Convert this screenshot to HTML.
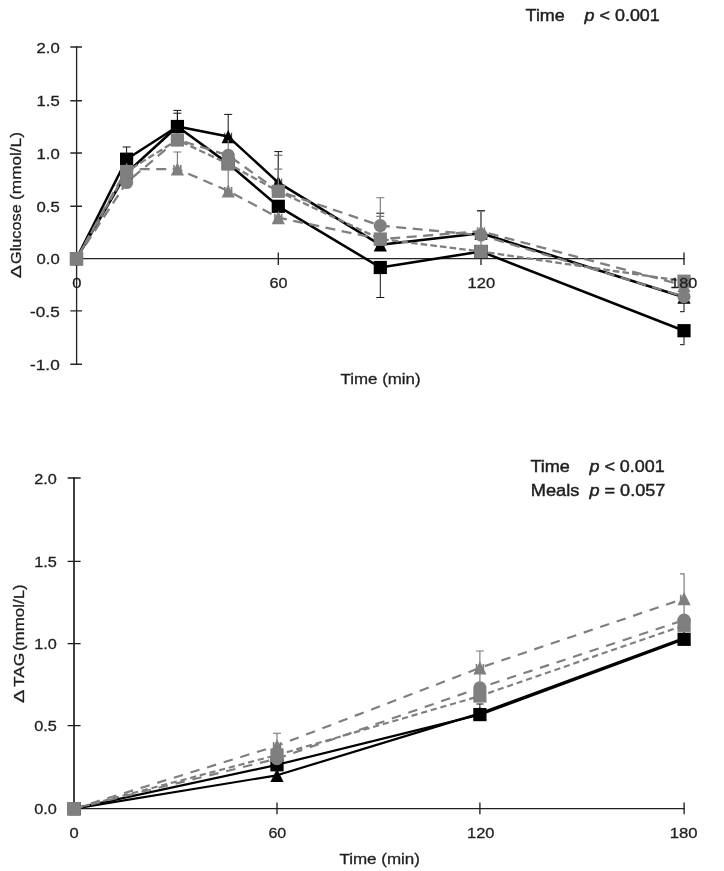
<!DOCTYPE html>
<html lang="en">
<head>
<meta charset="utf-8">
<title>Postprandial glucose and TAG responses</title>
<style>
html,body{margin:0;padding:0;background:#ffffff;}
body{width:724px;height:871px;overflow:hidden;font-family:"Liberation Sans", sans-serif;}
svg{display:block;}
</style>
</head>
<body>
<svg width="724" height="871" viewBox="0 0 724 871">
<rect x="0" y="0" width="724" height="871" fill="#ffffff"/>
<g id="top-chart">
<path d="M76.6 46.3V364.9M76.6 258.6H684.6" fill="none" stroke="#262626" stroke-width="1.35"/>
<path d="M70.3 47.00H82.0M70.3 100.70H82.0M70.3 153.00H82.0M70.3 206.20H82.0M70.3 310.90H82.0M70.3 364.20H82.0M278.30 252.5V264.9M481.00 252.5V264.9M684.00 252.5V264.9" fill="none" stroke="#262626" stroke-width="1.35"/>
<g font-family='"Liberation Sans", sans-serif' fill="#1f1f1f" stroke="#1f1f1f" stroke-width="0.3">
<text x="59.7" y="52.70" font-size="14.8" text-anchor="end" textLength="23.2" lengthAdjust="spacingAndGlyphs">2.0</text>
<text x="59.7" y="106.40" font-size="14.8" text-anchor="end" textLength="23.2" lengthAdjust="spacingAndGlyphs">1.5</text>
<text x="59.7" y="158.70" font-size="14.8" text-anchor="end" textLength="23.2" lengthAdjust="spacingAndGlyphs">1.0</text>
<text x="59.7" y="211.90" font-size="14.8" text-anchor="end" textLength="23.2" lengthAdjust="spacingAndGlyphs">0.5</text>
<text x="59.7" y="264.30" font-size="14.8" text-anchor="end" textLength="23.2" lengthAdjust="spacingAndGlyphs">0.0</text>
<text x="59.7" y="316.60" font-size="14.8" text-anchor="end" textLength="29.6" lengthAdjust="spacingAndGlyphs">-0.5</text>
<text x="59.7" y="369.90" font-size="14.8" text-anchor="end" textLength="29.6" lengthAdjust="spacingAndGlyphs">-1.0</text>
<text x="76.80" y="287.9" font-size="14.6" text-anchor="middle" textLength="9.2" lengthAdjust="spacingAndGlyphs">0</text>
<text x="278.60" y="287.9" font-size="14.6" text-anchor="middle" textLength="18.0" lengthAdjust="spacingAndGlyphs">60</text>
<text x="481.30" y="287.9" font-size="14.6" text-anchor="middle" textLength="27.6" lengthAdjust="spacingAndGlyphs">120</text>
<text x="380.6" y="383.5" font-size="14.8" text-anchor="middle" textLength="80" lengthAdjust="spacingAndGlyphs">Time (min)</text>
<text transform="translate(21.0 278.3) rotate(-90)" font-size="15"><tspan x="0" textLength="12.2" lengthAdjust="spacingAndGlyphs">Δ</tspan> <tspan x="14.4" textLength="59.6" lengthAdjust="spacingAndGlyphs">Glucose</tspan> <tspan x="78.4" textLength="67.8" lengthAdjust="spacingAndGlyphs">(mmol/L)</tspan></text>
<text x="525.6" y="21.2" font-size="16.5" text-anchor="start" textLength="39.2" lengthAdjust="spacingAndGlyphs" stroke-width="0.45">Time</text>
<text x="584.6" y="21.2" font-size="16.5" stroke-width="0.45" textLength="75.2" lengthAdjust="spacingAndGlyphs"><tspan font-style="italic">p</tspan> &lt; 0.001</text>
</g>
<polyline points="76.50,258.60 126.60,159.20 177.40,126.50 228.20,163.60 278.30,206.30 380.30,267.50 481.00,251.50 684.00,330.70" fill="none" stroke="#000000" stroke-width="2.55" stroke-linejoin="round"/>
<polyline points="76.50,258.60 126.60,173.00 177.40,126.50 228.20,136.60 278.30,182.60 380.30,244.80 481.00,233.20 684.00,297.20" fill="none" stroke="#000000" stroke-width="2.55" stroke-linejoin="round"/>
<path d="M126.60 159.20V147.00M122.60 147.00H130.60" fill="none" stroke="#111111" stroke-width="1.0"/>
<path d="M177.40 126.50V110.40M173.40 110.40H181.40" fill="none" stroke="#111111" stroke-width="1.0"/>
<path d="M177.40 126.50V113.20M173.40 113.20H181.40" fill="none" stroke="#111111" stroke-width="1.0"/>
<path d="M228.20 136.60V114.40M224.20 114.40H232.20" fill="none" stroke="#111111" stroke-width="1.0"/>
<path d="M278.30 182.60V151.60M274.30 151.60H282.30" fill="none" stroke="#111111" stroke-width="1.0"/>
<path d="M380.30 244.80V213.20M376.30 213.20H384.30" fill="none" stroke="#111111" stroke-width="1.0"/>
<path d="M380.30 267.50V297.50M376.30 297.50H384.30" fill="none" stroke="#111111" stroke-width="1.0"/>
<path d="M481.00 233.20V210.60M477.00 210.60H485.00" fill="none" stroke="#111111" stroke-width="1.0"/>
<path d="M684.00 297.20V311.70M680.00 311.70H684.40" fill="none" stroke="#111111" stroke-width="1.0"/>
<path d="M684.00 330.70V344.70M680.00 344.70H684.40" fill="none" stroke="#111111" stroke-width="1.0"/>
<rect x="69.90" y="252.00" width="13.20" height="13.20" fill="#000000"/>
<rect x="120.00" y="152.60" width="13.20" height="13.20" fill="#000000"/>
<rect x="170.80" y="119.90" width="13.20" height="13.20" fill="#000000"/>
<rect x="221.60" y="157.00" width="13.20" height="13.20" fill="#000000"/>
<rect x="271.70" y="199.70" width="13.20" height="13.20" fill="#000000"/>
<rect x="373.70" y="260.90" width="13.20" height="13.20" fill="#000000"/>
<rect x="474.40" y="244.90" width="13.20" height="13.20" fill="#000000"/>
<rect x="677.40" y="324.10" width="13.20" height="13.20" fill="#000000"/>
<path d="M76.50 252.00L83.10 265.20L69.90 265.20Z" fill="#000000"/>
<path d="M126.60 166.40L133.20 179.60L120.00 179.60Z" fill="#000000"/>
<path d="M177.40 119.90L184.00 133.10L170.80 133.10Z" fill="#000000"/>
<path d="M228.20 130.00L234.80 143.20L221.60 143.20Z" fill="#000000"/>
<path d="M278.30 176.00L284.90 189.20L271.70 189.20Z" fill="#000000"/>
<path d="M380.30 238.20L386.90 251.40L373.70 251.40Z" fill="#000000"/>
<path d="M481.00 226.60L487.60 239.80L474.40 239.80Z" fill="#000000"/>
<path d="M684.00 290.60L690.60 303.80L677.40 303.80Z" fill="#000000"/>
<path d="M123.20 169.10V176.90M130.00 169.10V176.90" stroke="#000000" stroke-width="0.8" fill="none"/>
<path d="M174.00 122.60V130.40M180.80 122.60V130.40" stroke="#000000" stroke-width="0.8" fill="none"/>
<path d="M224.80 132.70V140.50M231.60 132.70V140.50" stroke="#000000" stroke-width="0.8" fill="none"/>
<path d="M274.90 178.70V186.50M281.70 178.70V186.50" stroke="#000000" stroke-width="0.8" fill="none"/>
<path d="M376.90 240.90V248.70M383.70 240.90V248.70" stroke="#000000" stroke-width="0.8" fill="none"/>
<path d="M477.60 229.30V237.10M484.40 229.30V237.10" stroke="#000000" stroke-width="0.8" fill="none"/>
<path d="M680.60 293.30V301.10" stroke="#000000" stroke-width="0.8" fill="none"/>
<polyline points="76.50,258.60 126.60,182.50 177.40,139.60 228.20,155.30 278.30,191.00 380.30,225.60 481.00,235.20 684.00,296.60" fill="none" stroke="#7f7f7f" stroke-width="2.3" stroke-linejoin="round" stroke-dasharray="10 6.5" stroke-dashoffset="0"/>
<polyline points="76.50,258.60 126.60,171.50 177.40,140.00 228.20,163.80 278.30,191.30 380.30,239.00 481.00,251.50 684.00,281.20" fill="none" stroke="#7f7f7f" stroke-width="2.3" stroke-linejoin="round" stroke-dasharray="6.6 3.1" stroke-dashoffset="0"/>
<polyline points="76.50,258.60 126.60,169.30 177.40,169.00 228.20,191.00 278.30,217.60 380.30,239.20 481.00,231.20 684.00,285.50" fill="none" stroke="#7f7f7f" stroke-width="2.3" stroke-linejoin="round" stroke-dasharray="10 6.5" stroke-dashoffset="0"/>
<path d="M177.40 169.00V152.00M173.40 152.00H181.40" fill="none" stroke="#787878" stroke-width="1.15"/>
<path d="M228.20 155.30V140.00M228.20 140.00H228.20" fill="none" stroke="#787878" stroke-width="1.15"/>
<path d="M228.20 191.00V168.00M228.20 168.00H228.20" fill="none" stroke="#787878" stroke-width="1.15"/>
<path d="M278.30 191.00V155.30M274.30 155.30H282.30" fill="none" stroke="#555555" stroke-width="1.1"/>
<path d="M278.30 191.00V169.10M274.30 169.10H282.30" fill="none" stroke="#787878" stroke-width="1.15"/>
<path d="M380.30 225.60V197.70M376.30 197.70H384.30" fill="none" stroke="#787878" stroke-width="1.15"/>
<path d="M380.30 239.00V216.40M376.30 216.40H384.30" fill="none" stroke="#787878" stroke-width="1.15"/>
<path d="M481.00 231.20V211.20M477.00 211.20H485.00" fill="none" stroke="#787878" stroke-width="1.15"/>
<path d="M481.00 251.50V240.00M481.00 240.00H481.00" fill="none" stroke="#787878" stroke-width="1.15"/>
<circle cx="76.50" cy="258.60" r="6.60" fill="#7f7f7f"/>
<circle cx="126.60" cy="182.50" r="6.60" fill="#7f7f7f"/>
<circle cx="177.40" cy="139.60" r="6.60" fill="#7f7f7f"/>
<circle cx="228.20" cy="155.30" r="6.60" fill="#7f7f7f"/>
<circle cx="278.30" cy="191.00" r="6.60" fill="#7f7f7f"/>
<circle cx="380.30" cy="225.60" r="6.60" fill="#7f7f7f"/>
<circle cx="481.00" cy="235.20" r="6.60" fill="#7f7f7f"/>
<circle cx="684.00" cy="296.60" r="6.60" fill="#7f7f7f"/>
<rect x="69.90" y="252.00" width="13.20" height="13.20" fill="#7f7f7f"/>
<rect x="120.00" y="164.90" width="13.20" height="13.20" fill="#7f7f7f"/>
<rect x="170.80" y="133.40" width="13.20" height="13.20" fill="#7f7f7f"/>
<rect x="221.60" y="157.20" width="13.20" height="13.20" fill="#7f7f7f"/>
<rect x="271.70" y="184.70" width="13.20" height="13.20" fill="#7f7f7f"/>
<rect x="373.70" y="232.40" width="13.20" height="13.20" fill="#7f7f7f"/>
<rect x="474.40" y="244.90" width="13.20" height="13.20" fill="#7f7f7f"/>
<rect x="677.40" y="274.60" width="13.20" height="13.20" fill="#7f7f7f"/>
<path d="M76.50 252.00L83.10 265.20L69.90 265.20Z" fill="#7f7f7f"/>
<path d="M126.60 162.70L133.20 175.90L120.00 175.90Z" fill="#7f7f7f"/>
<path d="M177.40 162.40L184.00 175.60L170.80 175.60Z" fill="#7f7f7f"/>
<path d="M228.20 184.40L234.80 197.60L221.60 197.60Z" fill="#7f7f7f"/>
<path d="M278.30 211.00L284.90 224.20L271.70 224.20Z" fill="#7f7f7f"/>
<path d="M380.30 232.60L386.90 245.80L373.70 245.80Z" fill="#7f7f7f"/>
<path d="M481.00 224.60L487.60 237.80L474.40 237.80Z" fill="#7f7f7f"/>
<path d="M684.00 278.90L690.60 292.10L677.40 292.10Z" fill="#7f7f7f"/>
<path d="M123.20 165.40V173.20M130.00 165.40V173.20" stroke="#7f7f7f" stroke-width="1.6" fill="none"/>
<path d="M174.00 165.10V172.90M180.80 165.10V172.90" stroke="#7f7f7f" stroke-width="1.6" fill="none"/>
<path d="M224.80 187.10V194.90M231.60 187.10V194.90" stroke="#7f7f7f" stroke-width="1.6" fill="none"/>
<path d="M274.90 213.70V221.50M281.70 213.70V221.50" stroke="#7f7f7f" stroke-width="1.6" fill="none"/>
<path d="M376.90 235.30V243.10M383.70 235.30V243.10" stroke="#7f7f7f" stroke-width="1.6" fill="none"/>
<path d="M477.60 227.30V235.10M484.40 227.30V235.10" stroke="#7f7f7f" stroke-width="1.6" fill="none"/>
<path d="M680.60 281.60V289.40" stroke="#7f7f7f" stroke-width="1.6" fill="none"/>
<g font-family='"Liberation Sans", sans-serif' fill="#1f1f1f" stroke="#1f1f1f" stroke-width="0.3"><text x="683.80" y="287.9" font-size="14.6" text-anchor="middle" textLength="27.0" lengthAdjust="spacingAndGlyphs">180</text></g>
</g>
<g id="bottom-chart">
<path d="M74.0 477.3V808.6" fill="none" stroke="#000" stroke-width="1.5"/>
<path d="M73.3 808.6H684.7" fill="none" stroke="#222" stroke-width="1.35"/>
<path d="M67.6 478.00H80.6M67.6 561.40H80.6M67.6 643.60H80.6M67.6 725.70H80.6M277.00 802.6V814.2M479.90 802.6V814.2M684.10 802.6V814.2" fill="none" stroke="#1c1c1c" stroke-width="1.3"/>
<g font-family='"Liberation Sans", sans-serif' fill="#1f1f1f" stroke="#1f1f1f" stroke-width="0.3">
<text x="56.8" y="483.50" font-size="14.8" text-anchor="end" textLength="22.6" lengthAdjust="spacingAndGlyphs">2.0</text>
<text x="56.8" y="566.90" font-size="14.8" text-anchor="end" textLength="22.6" lengthAdjust="spacingAndGlyphs">1.5</text>
<text x="56.8" y="649.10" font-size="14.8" text-anchor="end" textLength="22.6" lengthAdjust="spacingAndGlyphs">1.0</text>
<text x="56.8" y="731.20" font-size="14.8" text-anchor="end" textLength="22.6" lengthAdjust="spacingAndGlyphs">0.5</text>
<text x="56.8" y="814.10" font-size="14.8" text-anchor="end" textLength="22.6" lengthAdjust="spacingAndGlyphs">0.0</text>
<text x="74.20" y="838.2" font-size="14.6" text-anchor="middle" textLength="9.2" lengthAdjust="spacingAndGlyphs">0</text>
<text x="277.30" y="838.2" font-size="14.6" text-anchor="middle" textLength="17.8" lengthAdjust="spacingAndGlyphs">60</text>
<text x="480.70" y="838.2" font-size="14.6" text-anchor="middle" textLength="27.4" lengthAdjust="spacingAndGlyphs">120</text>
<text x="683.70" y="838.2" font-size="14.6" text-anchor="middle" textLength="27.8" lengthAdjust="spacingAndGlyphs">180</text>
<text x="379.7" y="864.4" font-size="14.8" text-anchor="middle" textLength="80.6" lengthAdjust="spacingAndGlyphs">Time (min)</text>
<text transform="translate(23.8 702.9) rotate(-90)" font-size="15.4"><tspan x="0" textLength="12.3" lengthAdjust="spacingAndGlyphs">Δ</tspan> <tspan x="15.8" textLength="34.4" lengthAdjust="spacingAndGlyphs">TAG</tspan> <tspan x="51.8" textLength="66.8" lengthAdjust="spacingAndGlyphs">(mmol/L)</tspan></text>
<text x="530.4" y="472.4" font-size="16.8" text-anchor="start" textLength="39.4" lengthAdjust="spacingAndGlyphs" stroke-width="0.45">Time</text>
<text x="589.4" y="472.4" font-size="16.8" stroke-width="0.45" textLength="75.4" lengthAdjust="spacingAndGlyphs"><tspan font-style="italic">p</tspan> &lt; 0.001</text>
<text x="530.8" y="495.8" font-size="16.8" text-anchor="start" textLength="48.6" lengthAdjust="spacingAndGlyphs" stroke-width="0.45">Meals</text>
<text x="589.4" y="495.8" font-size="16.8" stroke-width="0.45" textLength="76" lengthAdjust="spacingAndGlyphs"><tspan font-style="italic">p</tspan> = 0.057</text>
</g>
<polyline points="74.10,808.60 277.00,764.80 479.90,714.60 684.10,639.30" fill="none" stroke="#000000" stroke-width="2.2" stroke-linejoin="round"/>
<polyline points="74.10,808.60 277.00,775.30 479.90,713.40 684.10,638.00" fill="none" stroke="#000000" stroke-width="2.2" stroke-linejoin="round"/>
<path d="M479.90 714.60V704.00M476.30 704.00H483.50" fill="none" stroke="#111111" stroke-width="1.0"/>
<rect x="67.50" y="802.00" width="13.20" height="13.20" fill="#000000"/>
<rect x="270.40" y="758.20" width="13.20" height="13.20" fill="#000000"/>
<rect x="473.30" y="708.00" width="13.20" height="13.20" fill="#000000"/>
<rect x="677.50" y="632.70" width="13.20" height="13.20" fill="#000000"/>
<path d="M74.10 802.00L80.70 815.20L67.50 815.20Z" fill="#000000"/>
<path d="M277.00 768.70L283.60 781.90L270.40 781.90Z" fill="#000000"/>
<path d="M479.90 706.80L486.50 720.00L473.30 720.00Z" fill="#000000"/>
<path d="M684.10 631.40L690.70 644.60L677.50 644.60Z" fill="#000000"/>
<polyline points="74.10,808.60 277.00,758.70 479.90,687.80 684.10,620.10" fill="none" stroke="#7f7f7f" stroke-width="2.15" stroke-linejoin="round" stroke-dasharray="9.5 7.9" stroke-dashoffset="0"/>
<polyline points="74.10,808.60 277.00,755.00 479.90,696.00 684.10,625.30" fill="none" stroke="#7f7f7f" stroke-width="2.15" stroke-linejoin="round" stroke-dasharray="6.2 3.8" stroke-dashoffset="0"/>
<polyline points="74.10,808.60 277.00,745.80 479.90,667.80 684.10,598.60" fill="none" stroke="#7f7f7f" stroke-width="2.15" stroke-linejoin="round" stroke-dasharray="9.5 7.9" stroke-dashoffset="0"/>
<path d="M277.00 745.80V733.20M273.00 733.20H281.00" fill="none" stroke="#787878" stroke-width="1.15"/>
<path d="M479.90 667.80V651.00M475.90 651.00H483.90" fill="none" stroke="#787878" stroke-width="1.15"/>
<path d="M479.90 687.80V672.00M479.90 672.00H479.90" fill="none" stroke="#787878" stroke-width="1.15"/>
<path d="M684.10 598.60V573.80M680.10 573.80H684.50" fill="none" stroke="#787878" stroke-width="1.15"/>
<path d="M684.10 620.10V604.00M684.10 604.00H684.10" fill="none" stroke="#787878" stroke-width="1.15"/>
<circle cx="74.10" cy="808.60" r="6.60" fill="#7f7f7f"/>
<circle cx="277.00" cy="758.70" r="6.60" fill="#7f7f7f"/>
<circle cx="479.90" cy="687.80" r="6.60" fill="#7f7f7f"/>
<circle cx="684.10" cy="620.10" r="6.60" fill="#7f7f7f"/>
<rect x="67.50" y="802.00" width="13.20" height="13.20" fill="#7f7f7f"/>
<rect x="270.40" y="748.40" width="13.20" height="13.20" fill="#7f7f7f"/>
<rect x="473.30" y="689.40" width="13.20" height="13.20" fill="#7f7f7f"/>
<rect x="677.50" y="618.70" width="13.20" height="13.20" fill="#7f7f7f"/>
<path d="M74.10 802.00L80.70 815.20L67.50 815.20Z" fill="#7f7f7f"/>
<path d="M277.00 739.20L283.60 752.40L270.40 752.40Z" fill="#7f7f7f"/>
<path d="M479.90 661.20L486.50 674.40L473.30 674.40Z" fill="#7f7f7f"/>
<path d="M684.10 592.00L690.70 605.20L677.50 605.20Z" fill="#7f7f7f"/>
<path d="M273.60 741.90V749.70M280.40 741.90V749.70" stroke="#7f7f7f" stroke-width="1.6" fill="none"/>
<path d="M476.50 663.90V671.70M483.30 663.90V671.70" stroke="#7f7f7f" stroke-width="1.6" fill="none"/>
<path d="M680.70 594.70V602.50" stroke="#7f7f7f" stroke-width="1.6" fill="none"/>
</g>
</svg>
</body>
</html>
